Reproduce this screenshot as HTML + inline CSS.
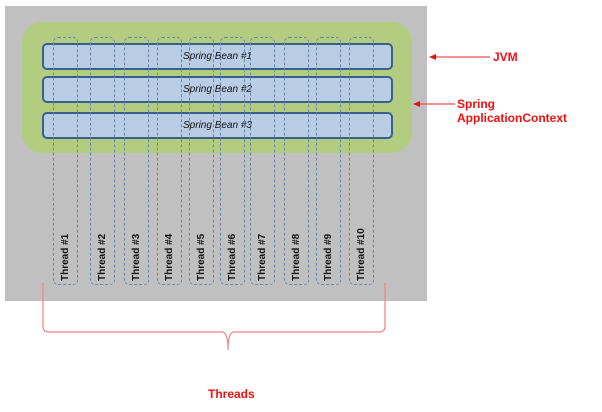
<!DOCTYPE html>
<html><head><style>
body{margin:0;background:#fff;width:602px;height:412px;position:relative;overflow:hidden;font-family:"Liberation Sans",sans-serif}
.a{position:absolute}
.bean{position:absolute;left:42px;width:347px;height:23px;background:#b9cde5;border:2px solid #3a5f8f;border-radius:5px;font-style:italic;font-size:10px;text-align:center;line-height:23px;color:#111}
.th{position:absolute;top:37px;height:248px;width:25px;border:1px dashed #6a86a8;border-radius:5px;box-sizing:border-box}
.tl{position:absolute;font-size:10px;font-weight:bold;transform:rotate(-90deg);transform-origin:left top;white-space:nowrap;color:#111}
.red{color:#f01010;font-weight:bold;font-size:12px}
</style></head><body>
<div class="a" style="left:5px;top:6px;width:422px;height:295px;background:#c0c0c0"></div>
<div class="a" style="left:22px;top:22px;width:390px;height:131px;background:#b3cd80;border-radius:20px"></div>
<div class="bean" style="top:43px">Spring Bean #1</div>
<div class="bean" style="top:76px">Spring Bean #2</div>
<div class="bean" style="top:112px">Spring Bean #3</div>
<div class="th" style="left:53px"></div><div class="tl" style="left:60px;top:281px">Thread #1</div>
<div class="th" style="left:90px"></div><div class="tl" style="left:97px;top:281px">Thread #2</div>
<div class="th" style="left:124px"></div><div class="tl" style="left:131px;top:281px">Thread #3</div>
<div class="th" style="left:157px"></div><div class="tl" style="left:164px;top:281px">Thread #4</div>
<div class="th" style="left:189px"></div><div class="tl" style="left:196px;top:281px">Thread #5</div>
<div class="th" style="left:220px"></div><div class="tl" style="left:227px;top:281px">Thread #6</div>
<div class="th" style="left:250px"></div><div class="tl" style="left:257px;top:281px">Thread #7</div>
<div class="th" style="left:284px"></div><div class="tl" style="left:291px;top:281px">Thread #8</div>
<div class="th" style="left:316px"></div><div class="tl" style="left:323px;top:281px">Thread #9</div>
<div class="th" style="left:349px"></div><div class="tl" style="left:356px;top:281px">Thread #10</div>
<svg class="a" style="left:0;top:0" width="602" height="412">
<path d="M43 283 V326 Q43 332 49 332 H222 Q228 332 228 350 Q228 332 234 332 H379 Q385 332 385 326 V283" fill="none" stroke="#f58080" stroke-width="1.2"/>
<line x1="490" y1="57" x2="434" y2="57" stroke="#f05050" stroke-width="1.2"/>
<polygon points="429,57 436,54 436,60" fill="#f01010"/>
<line x1="455" y1="104" x2="418" y2="104" stroke="#f05050" stroke-width="1.2"/>
<polygon points="413,104 420,101 420,107" fill="#f01010"/>
</svg>
<div class="a red" style="left:493px;top:50px">JVM</div>
<div class="a red" style="left:457px;top:97px">Spring ApplicationContext</div>
<div class="a red" style="left:208px;top:387px">Threads</div>
</body></html>
